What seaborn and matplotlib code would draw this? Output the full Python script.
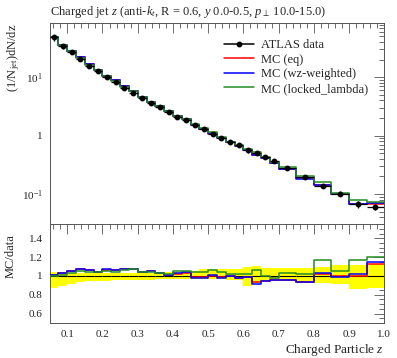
import numpy as np
import pandas as pd
import matplotlib
matplotlib.use('Agg')
import matplotlib.pyplot as plt
from matplotlib.lines import Line2D
from matplotlib.ticker import MultipleLocator, LogLocator, NullFormatter, FixedLocator
import seaborn as sns

# bin edges: 0.025 wide up to 0.7, then 0.05 wide
EDGES = [0.05, 0.075, 0.1, 0.125, 0.15, 0.175, 0.2, 0.225, 0.25, 0.275, 0.3,
         0.325, 0.35, 0.375, 0.4, 0.425, 0.45, 0.475, 0.5, 0.525, 0.55, 0.575,
         0.6, 0.625, 0.65, 0.675, 0.7, 0.75, 0.8, 0.85, 0.9, 0.95, 1.0]

DATA = [48.5, 34.8, 26.8, 20.6, 15.8, 12.8, 10.0, 8.3, 6.5, 5.4, 4.4, 3.6,
        3.06, 2.57, 2.08, 1.83, 1.54, 1.31, 1.08, 0.92, 0.78, 0.69, 0.57,
        0.50, 0.435, 0.362, 0.281, 0.197, 0.137, 0.101, 0.067, 0.060]

# relative data uncertainty (lower / upper), as seen in the ratio band
BAND_LO = [0.875, 0.89, 0.915, 0.935, 0.945, 0.95, 0.95, 0.96, 0.96, 0.96,
           0.96, 0.96, 0.965, 0.965, 0.97, 0.97, 0.965, 0.965, 0.965, 0.965,
           0.96, 0.96, 0.895, 0.925, 0.945, 0.945, 0.945, 0.935, 0.92, 0.91,
           0.865, 0.87]
BAND_HI = [1.04, 1.035, 1.035, 1.035, 1.035, 1.035, 1.035, 1.035, 1.035,
           1.035, 1.035, 1.035, 1.035, 1.04, 1.04, 1.045, 1.05, 1.075, 1.075,
           1.07, 1.07, 1.075, 1.09, 1.1, 1.08, 1.08, 1.08, 1.08, 1.09, 1.12,
           1.12, 1.13]

# MC / data ratios
RATIO_EQ = [1.005, 1.03, 1.055, 1.07, 1.06, 1.04, 1.065, 1.06, 1.07, 1.07,
            1.045, 1.05, 1.035, 1.01, 1.025, 1.035, 0.985, 0.985, 1.0, 0.99,
            0.995, 0.98, 0.985, 0.93, 0.95, 0.955, 0.96, 0.94, 1.025, 0.995,
            0.995, 1.125]
RATIO_WZ = [1.01, 1.03, 1.05, 1.077, 1.065, 1.04, 1.07, 1.06, 1.07, 1.07,
            1.045, 1.055, 1.035, 1.01, 1.03, 1.04, 0.977, 0.98, 1.008, 0.98,
            0.998, 0.977, 0.99, 0.918, 0.945, 0.952, 0.955, 0.935, 1.03, 0.99,
            1.02, 1.146]
RATIO_LL = [0.997, 1.01, 1.03, 1.05, 1.04, 1.04, 1.05, 1.045, 1.065, 1.07,
            1.045, 1.04, 1.035, 1.015, 1.05, 1.05, 1.04, 1.045, 1.06, 1.04,
            1.016, 1.02, 1.025, 1.065, 1.0, 0.977, 1.03, 1.02, 1.167, 1.048,
            1.17, 1.2]

MC = [('MC (eq)', RATIO_EQ, 'red'),
      ('MC (wz-weighted)', RATIO_WZ, 'blue'),
      ('MC (locked_lambda)', RATIO_LL, 'forestgreen')]


def step_frame(values):
    return pd.DataFrame({'z': EDGES, 'y': list(values) + [values[-1]]})


def main():
    sns.set_style('white')
    plt.rcParams['font.family'] = ['Liberation Serif', 'DejaVu Serif']
    plt.rcParams['mathtext.fontset'] = 'custom'
    plt.rcParams['mathtext.rm'] = 'Liberation Serif'
    plt.rcParams['mathtext.it'] = 'Liberation Serif:italic'

    edges = np.array(EDGES)
    centers = 0.5 * (edges[:-1] + edges[1:])
    halfw = 0.5 * np.diff(edges)
    data = np.array(DATA)
    lo = np.array(BAND_LO)
    hi = np.array(BAND_HI)

    fig = plt.figure(figsize=(3.97, 3.58), dpi=100)
    ax = fig.add_axes([0.125, 0.374, 0.843, 0.561])
    rax = fig.add_axes([0.125, 0.098, 0.843, 0.276], sharex=ax)

    # main panel
    for label, ratio, color in MC:
        sns.lineplot(data=step_frame(data * np.array(ratio)), x='z', y='y',
                     drawstyle='steps-post', color=color, lw=1.1, ax=ax,
                     legend=False, estimator=None, sort=False)
    ax.errorbar(centers, data, xerr=halfw,
                yerr=[data * (1 - lo), data * (hi - 1)],
                fmt='o', color='black', ms=3.2, lw=0.9, capsize=0, zorder=5)
    ax.set_yscale('log')
    ax.set_ylim(0.0305, 84)
    ax.set_xlim(0.05, 1.0)
    ax.yaxis.set_major_locator(FixedLocator([0.1, 1, 10]))
    ax.set_yticklabels(['10$^{-1}$', '1', '10$^{1}$'])
    ax.yaxis.set_minor_locator(LogLocator(base=10, subs=np.arange(2, 10)))
    ax.yaxis.set_minor_formatter(NullFormatter())
    ax.tick_params(axis='x', labelbottom=False)
    ax.set_ylabel('')
    ax.set_xlabel('')
    ax.text(-0.133, 1.0, '(1/N$_{\\mathrm{jet}}$)dN/dz', transform=ax.transAxes,
            rotation=90, ha='left', va='top', fontsize=9)
    ax.set_title('Charged jet $z$ (anti-$k_t$, R = 0.6, $y$ 0.0-0.5, $p_\\perp$ 10.0-15.0)',
                 loc='left', fontsize=9.0, pad=6)

    handles = [Line2D([], [], color='black', marker='o', ms=3.2, lw=1.1, label='ATLAS data')]
    for label, ratio, color in MC:
        handles.append(Line2D([], [], color=color, lw=1.1, label=label))
    ax.legend(handles=handles, loc='upper left', bbox_to_anchor=(0.49, 0.97),
              frameon=False, fontsize=9, handlelength=2.4, labelspacing=0.2,
              handletextpad=0.6, borderpad=0.3)

    # ratio panel
    rax.fill_between(edges, np.append(lo, lo[-1]), np.append(hi, hi[-1]),
                     step='post', color='yellow', lw=0, zorder=1)
    rax.errorbar(centers, np.ones_like(centers), xerr=halfw, fmt='none',
                 color='black', lw=0.8, zorder=2)
    for label, ratio, color in MC:
        sns.lineplot(data=step_frame(ratio), x='z', y='y',
                     drawstyle='steps-post', color=color, lw=1.1, ax=rax,
                     legend=False, estimator=None, sort=False, zorder=3)
    rax.set_ylim(0.5, 1.55)
    rax.yaxis.set_major_locator(FixedLocator([0.6, 0.8, 1.0, 1.2, 1.4]))
    rax.set_yticklabels(['0.6', '0.8', '1', '1.2', '1.4'])
    rax.yaxis.set_minor_locator(MultipleLocator(0.05))
    rax.xaxis.set_major_locator(MultipleLocator(0.1))
    rax.xaxis.set_minor_locator(MultipleLocator(0.02))
    rax.set_ylabel('')
    rax.text(-0.133, 0.9, 'MC/data', transform=rax.transAxes,
             rotation=90, ha='left', va='top', fontsize=9)
    rax.set_xlabel('Charged Particle $z$', loc='right', fontsize=9.5, labelpad=2)

    for a in (ax, rax):
        a.set_xlim(0.05, 1.0)
        for s in a.spines.values():
            s.set_color('#555555')
            s.set_linewidth(0.7)
        a.tick_params(which='both', direction='in', top=True, right=True,
                      color='#555555', width=0.6, labelsize=8, pad=5)
        a.tick_params(which='major', length=7)
        a.tick_params(which='minor', length=3.5)

    fig.savefig('out.png', dpi=100)
    plt.close(fig)


if __name__ == '__main__':
    main()
